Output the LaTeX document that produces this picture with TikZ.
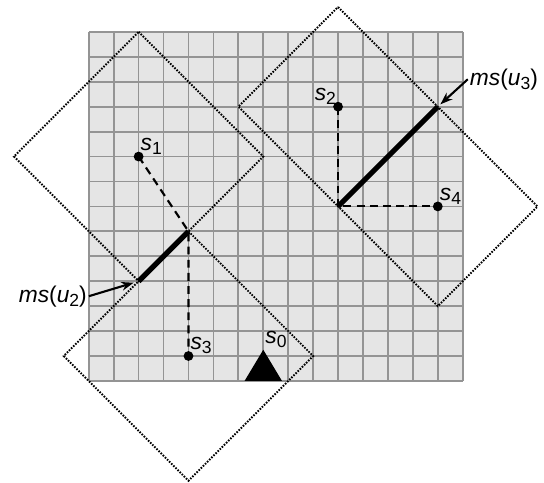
\documentclass[tikz,border=0pt]{standalone}
\usepackage{fontspec}
\setmainfont{Liberation Sans}
\usetikzlibrary{arrows.meta}

\newcommand{\indis}[1]{\raisebox{-0.35ex}{\fontsize{10}{12}\selectfont #1}}

\begin{document}
\begin{tikzpicture}[x=0.5cm, y=0.5cm, font=\fontsize{13}{15}\selectfont,
  etiket/.style={inner sep=1pt},
  kare/.style={line width=1.1pt, dash pattern=on 0.9pt off 0.8pt},
  yol/.style={line width=1.2pt, dash pattern=on 4.5pt off 3pt},
  kesit/.style={line width=3pt},
  ok/.style={line width=1.2pt, -{Stealth[length=7pt, width=5pt]}}]
  \useasboundingbox (-3.56,-4.08) rectangle (18.26,15.28);

  % --- izgara 15 x 14 ---
  \fill[black!10] (0,0) rectangle (15,14);
  \draw[black!42, line width=1pt, step=0.5cm] (0,0) grid (15,14);

  % --- noktalar ve birlesme kesitleri ---
  \coordinate (s0) at (7,1.25);
  \coordinate (s1) at (2,9);
  \coordinate (s2) at (10,11);
  \coordinate (s3) at (4,1);
  \coordinate (s4) at (14,7);
  \coordinate (a2) at (2,4);
  \coordinate (b2) at (4,6);
  \coordinate (a3) at (10,7);
  \coordinate (b3) at (14,11);

  % L1 toplari (noktali)
  \draw[kare] (2,14) -- (7,9) -- (2,4) -- (-3,9) -- cycle;
  \draw[kare] (4,6) -- (9,1) -- (4,-4) -- (-1,1) -- cycle;
  \draw[kare] (10,15) -- (18,7) -- (14,3) -- (6,11) -- cycle;

  % kesikli yollar
  \draw[yol] (s1) -- (b2) -- (s3);
  \draw[yol] (s2) -- (a3) -- (s4);

  % ms(u) kesitleri
  \draw[kesit] (a2) -- (b2);
  \draw[kesit] (a3) -- (b3);

  % kaynak s0
  \fill (6.25,0) -- (7.75,0) -- (s0) -- cycle;

  \foreach \p in {s1, s2, s3, s4}
    \fill (\p) circle (2.8pt);

  % --- etiketler ---
  \node[etiket, above right] (l0) at (s0) {\textit{s}\indis{0}};
  \node[etiket, above right] (l1) at (s1) {\textit{s}\indis{1}};
  \node[etiket, above left]  (l2) at (s2) {\textit{s}\indis{2}};
  \node[etiket, above right] (l3) at (s3) {\textit{s}\indis{3}};
  \node[etiket, above right] (l4) at (s4) {\textit{s}\indis{4}};

  \node[etiket] (ms3) at (16.65,12.1) {\textit{ms}(\textit{u}\indis{3})};
  \node[etiket] (ms2) at (-1.44,3.4) {\textit{ms}(\textit{u}\indis{2})};
  \draw[ok, shorten >=2pt] (ms3.west) -- (b3);
  \draw[ok, shorten >=3pt] (ms2.east) -- (a2);
\end{tikzpicture}
\end{document}
